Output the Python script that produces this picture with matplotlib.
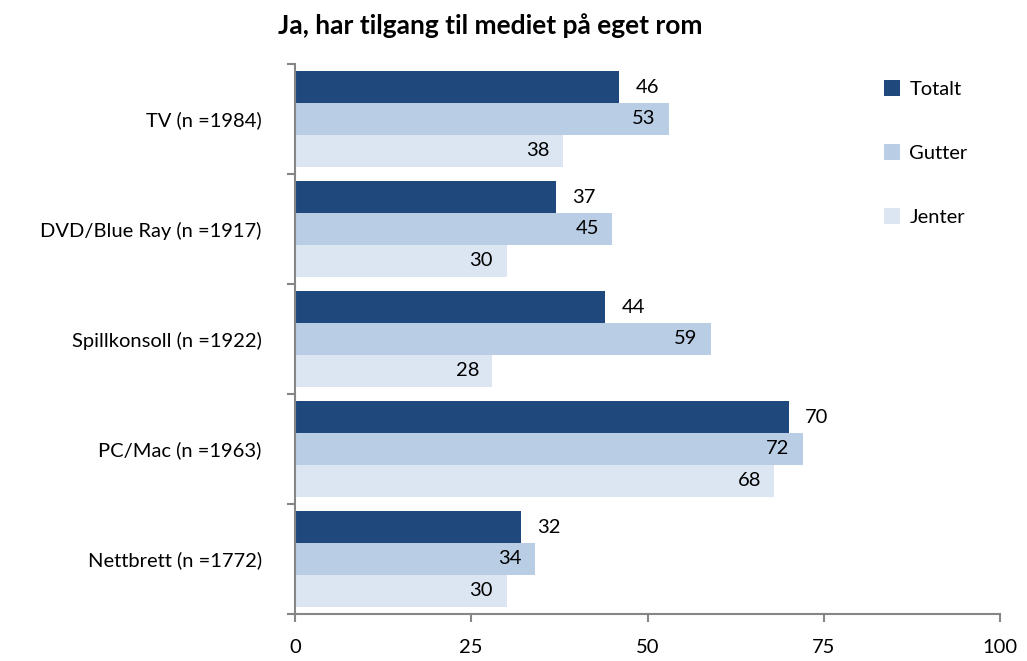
import matplotlib
matplotlib.use("Agg")
import matplotlib.pyplot as plt
from matplotlib.patches import Patch
import numpy as np

categories = ["TV (n =1984)", "DVD/Blue Ray (n =1917)", "Spillkonsoll (n =1922)",
              "PC/Mac (n =1963)", "Nettbrett (n =1772)"]
series_names = ["Totalt", "Gutter", "Jenter"]
totalt = [46, 37, 44, 70, 32]
gutter = [53, 45, 59, 72, 34]
jenter = [38, 30, 28, 68, 30]
colors = ["#1F497D", "#B9CDE5", "#DCE6F2"]
title = "Ja, har tilgang til mediet på eget rom"
xticks = [0, 25, 50, 75, 100]

plt.rcParams['font.family'] = ['Lato', 'DejaVu Sans']

fig = plt.figure(figsize=(10.27, 6.61), dpi=100)
ax = fig.add_axes([295/1027, 1-614/661, 705/1027, 550/661])

y = np.arange(len(categories))
h = 0.29
offsets = [-h, 0, h]
data = [totalt, gutter, jenter]
for k, (vals, col, off) in enumerate(zip(data, colors, offsets)):
    ax.barh(y + off, vals, height=h, color=col, label=series_names[k])
    for yy, v in zip(y + off, vals):
        if k == 0:
            ax.text(v + 2.3, yy, str(v), va='center', ha='left', fontsize=14.5, color='black')
        else:
            ax.text(v - 1.9, yy, str(v), va='center', ha='right', fontsize=14.5, color='black')

ax.set_xlim(0, 100)
ax.set_ylim(len(categories) - 0.5, -0.5)
ax.set_xticks(xticks)
ax.set_xticklabels([str(t) for t in xticks], fontsize=14.5)
ax.set_yticks(y)
ax.set_yticklabels(categories, fontsize=14.5)
ax.set_yticks(np.arange(len(categories) + 1) - 0.5, minor=True)
ax.tick_params(axis='y', which='major', length=0, pad=24)
ax.tick_params(axis='y', which='minor', length=6, color='#868686', width=1.5, direction='out')
ax.tick_params(axis='x', which='major', length=6, color='#868686', width=1.5, pad=12)
for s in ['top', 'right']:
    ax.spines[s].set_visible(False)
for s in ['left', 'bottom']:
    ax.spines[s].set_color('#868686')
    ax.spines[s].set_linewidth(1.5)

fig.text(490/1027, 1-26/661, title, ha='center', va='center', fontsize=19, fontweight='bold')

handles = [Patch(facecolor=c) for c in colors]
fig.legend(handles, series_names, loc='upper left', bbox_to_anchor=(866/1027, 1-62/661),
           frameon=False, fontsize=14.5, handlelength=0.8, handleheight=0.8,
           labelspacing=2.3, handletextpad=0.45)

fig.savefig("out.png", dpi=100)
